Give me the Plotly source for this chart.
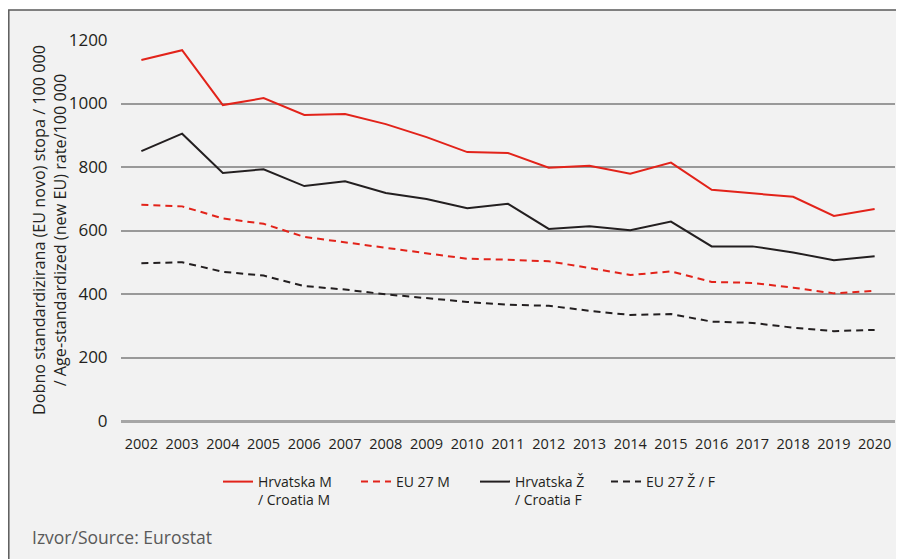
import plotly.graph_objects as go

years = [str(y) for y in range(2002, 2021)]
hr_m = [1137, 1168, 995, 1017, 964, 967, 935, 894, 847, 844, 798, 804, 779, 814, 728, 717, 706, 646, 668]
eu_m = [681, 676, 638, 621, 580, 563, 546, 527, 511, 508, 503, 482, 460, 471, 438, 435, 420, 402, 410]
hr_f = [850, 905, 781, 793, 740, 755, 718, 699, 670, 684, 605, 613, 601, 628, 550, 550, 531, 506, 519]
eu_f = [497, 500, 470, 458, 425, 414, 399, 387, 375, 366, 363, 347, 334, 337, 313, 309, 294, 283, 287]
y_ticks = [0, 200, 400, 600, 800, 1000, 1200]

RED = "#e2231a"
BLACK = "#231f20"
TXT = "#231f20"
FONT = "Open Sans"

series = [
    ("Hrvatska M<br>/ Croatia M", hr_m, RED, "solid", "legend"),
    ("EU 27 M", eu_m, RED, "7px,5px", "legend2"),
    ("Hrvatska Ž<br>/ Croatia F", hr_f, BLACK, "solid", "legend3"),
    ("EU 27 Ž / F", eu_f, BLACK, "7px,5px", "legend4"),
]

fig = go.Figure()
for name, vals, col, dash, lg in series:
    fig.add_trace(go.Scatter(x=years, y=vals, name=name, mode="lines",
                             line=dict(color=col, width=2, dash=dash),
                             legend=lg, hoverinfo="skip"))

# page body has an 8px margin; the figure is sized to fit the window
OFF = 8
W, H = 904 - OFF, 559 - OFF
L, R, T, B = 121 - OFF, 9, 40 - OFF, 138
pw = W - L - R
ph = H - T - B

def px_x(px):
    return (px - OFF - L) / pw

def px_y(py):
    return (H - B - (py - OFF)) / ph

leg_common = dict(orientation="h", yanchor="top", valign="top",
                  font=dict(family=FONT, size=14, color=TXT),
                  bgcolor="rgba(0,0,0,0)", tracegroupgap=0)
leg_x = [218, 356, 475, 606]
leg_y = 466
fig.update_layout(
    width=W, height=H,
    margin=dict(l=L, r=R, t=T, b=B),
    paper_bgcolor="white",
    plot_bgcolor="rgba(0,0,0,0)",
    font=dict(family=FONT, size=14, color=TXT),
    showlegend=True,
    legend=dict(x=px_x(leg_x[0]), y=px_y(leg_y), **leg_common),
    legend2=dict(x=px_x(leg_x[1]), y=px_y(leg_y), **leg_common),
    legend3=dict(x=px_x(leg_x[2]), y=px_y(leg_y), **leg_common),
    legend4=dict(x=px_x(leg_x[3]), y=px_y(leg_y), **leg_common),
    xaxis=dict(type="category", range=[-0.5, len(years) - 0.5],
               showgrid=False, showline=False, zeroline=False,
               ticks="outside", ticklen=10, tickcolor="rgba(0,0,0,0)",
               tickfont=dict(family=FONT, size=14.5, color=TXT)),
    yaxis=dict(range=[0, 1200], tickvals=y_ticks,
               showgrid=True, gridcolor="#999999", gridwidth=1.5,
               zeroline=True, zerolinecolor="#a6a6a6", zerolinewidth=2.5,
               showline=False, ticks="outside", ticklen=9,
               tickcolor="rgba(0,0,0,0)",
               tickfont=dict(family=FONT, size=17, color=TXT)),
    shapes=[dict(type="rect", xref="paper", yref="paper", layer="below",
                 x0=px_x(8.8), x1=px_x(904 + 20), y0=px_y(559 + 20), y1=px_y(10),
                 fillcolor="#f2f2f2", line=dict(color="#5a5a5a", width=1.5))],
    annotations=[
        dict(text="Dobno standardizirana (EU novo) stopa / 100 000<br>/ Age-standardized (new EU) rate/100 000",
             xref="paper", yref="paper", x=px_x(49), y=px_y(230),
             xanchor="center", yanchor="middle", textangle=-90, showarrow=False,
             font=dict(family=FONT, size=16.2, color=TXT)),
        dict(text="Izvor/Source: Eurostat", xref="paper", yref="paper",
             x=px_x(30), y=px_y(537), xanchor="left", yanchor="middle",
             showarrow=False,
             font=dict(family=FONT, size=17.5, color="#595959")),
    ],
)

fig.write_html("out.html")
